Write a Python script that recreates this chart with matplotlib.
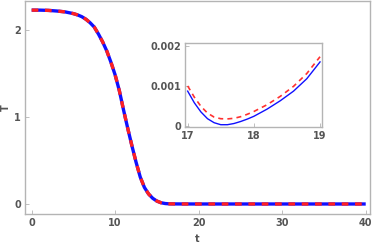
import matplotlib
matplotlib.use("Agg")
import matplotlib.pyplot as plt

# Main curve
t_main = [0, 1, 2, 3, 4, 5, 5.5, 6, 6.5, 7, 7.5, 8, 8.5, 9, 9.5, 10, 10.5, 11, 11.5,
          12, 12.5, 13, 13.5, 14, 14.5, 15, 15.5, 16, 16.5, 17, 18, 20, 25, 30, 35, 40]
T_main = [2.225, 2.225, 2.222, 2.215, 2.205, 2.185, 2.17, 2.15, 2.12, 2.08, 2.03,
          1.95, 1.86, 1.755, 1.625, 1.48, 1.30, 1.08, 0.87,
          0.67, 0.48, 0.31, 0.19, 0.115, 0.065, 0.033, 0.014, 0.005, 0.0015, 0.0009,
          0.0003, 0.0, 0.0, 0.0, 0.0, 0.0]

# Inset curves
t_in = [17.0, 17.1, 17.2, 17.3, 17.4, 17.5, 17.6, 17.7, 17.8, 17.9, 18.0, 18.2, 18.4,
        18.6, 18.8, 19.0]
T_blue = [0.00087, 0.00058, 0.00035, 0.00018, 0.00008, 0.00003, 0.00003, 0.00006,
          0.00011, 0.00017, 0.00024, 0.00042, 0.00063, 0.00087, 0.00118, 0.00160]
T_red = [0.00100, 0.00072, 0.00049, 0.00032, 0.00022, 0.00018, 0.000175, 0.00019,
         0.00023, 0.00029, 0.00036, 0.00053, 0.00074, 0.00099, 0.00131, 0.00173]

frame_col = "#b4b4b4"
lab_col = "#555555"

fig = plt.figure(figsize=(3.74, 2.47), dpi=100)
ax = fig.add_axes([0.0668, 0.1336, 0.9222, 0.8624])
ax.plot(t_main, T_main, color="#1010ff", lw=2.4, solid_capstyle="butt")
ax.plot(t_main, T_main, color="#ff2020", lw=2.4, ls=(0, (2, 2)))
ax.set_xlim(-0.8, 40.5)
ax.set_ylim(-0.115, 2.33)
ax.set_xticks([0, 10, 20, 30, 40])
ax.set_yticks([0, 1, 2])
ax.set_xlabel("t", color=lab_col, fontsize=7, fontweight="bold", labelpad=4)
ax.set_ylabel("T", color=lab_col, fontsize=7, fontweight="bold", labelpad=2)


def style(a):
    for s in a.spines.values():
        s.set_color(frame_col)
        s.set_linewidth(1.0)
    a.tick_params(direction="in", length=3, width=0.6, color=frame_col,
                  labelcolor=lab_col, labelsize=7, pad=3)
    for lbl in a.get_xticklabels() + a.get_yticklabels():
        lbl.set_fontweight("bold")


style(ax)

axi = fig.add_axes([0.4947, 0.487, 0.3663, 0.340])
axi.plot(t_in, T_blue, color="#1010ff", lw=1.0)
axi.plot(t_in, T_red, color="#ff3030", lw=1.2, ls=(0, (3, 2.5)))
axi.set_xlim(16.96, 19.03)
axi.set_ylim(-0.00002, 0.00208)
axi.set_xticks([17, 18, 19])
axi.set_yticks([0, 0.001, 0.002])
axi.set_yticklabels(["0", "0.001", "0.002"])
style(axi)

fig.savefig("out.png", dpi=100)
